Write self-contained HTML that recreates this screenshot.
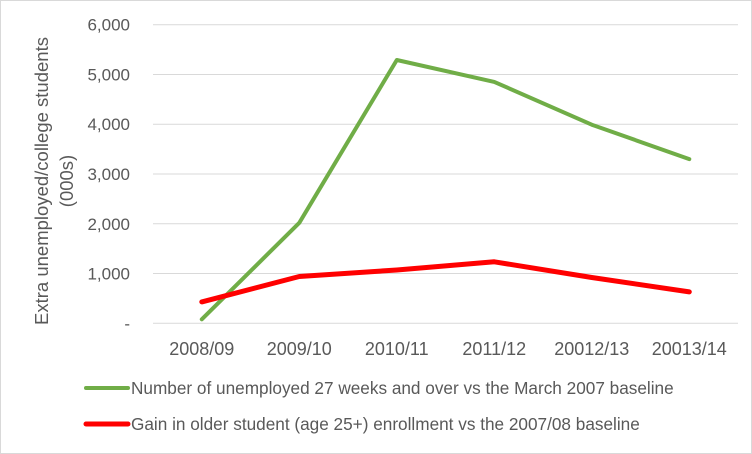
<!DOCTYPE html>
<html><head><meta charset="utf-8">
<style>
html,body{margin:0;padding:0;background:#fff;}
svg{display:block;font-family:"Liberation Sans",sans-serif;}
</style></head>
<body>
<svg id="chart" width="752" height="454" viewBox="0 0 752 454">
<rect x="0.5" y="0.5" width="751" height="453" fill="#fff" stroke="#d9d9d9"/>
<g id="grid"></g>
<g id="yticks"></g>
<g id="xticks"></g>
<g id="series"></g>
<text transform="translate(48,181) rotate(-90)" text-anchor="middle" font-size="18.5" fill="#595959"><tspan x="0" dy="0">Extra unemployed/college students</tspan><tspan x="0" dy="25">(000s)</tspan></text>
<g>
<g>
<line x1="86" y1="388" x2="128" y2="388" stroke="#70ad47" stroke-width="4" stroke-linecap="round"/>
<text x="131" y="394" font-size="17.2" fill="#595959">Number of unemployed 27 weeks and over vs the March 2007 baseline</text>
</g>
<g>
<line x1="86" y1="424" x2="128" y2="424" stroke="#ff0000" stroke-width="5" stroke-linecap="round"/>
<text x="131" y="430" font-size="17.2" fill="#595959">Gain in older student (age 25+) enrollment vs the 2007/08 baseline</text>
</g>
</g>
</svg>
<script>
const categories=["2008/09","2009/10","2010/11","2011/12","20012/13","20013/14"];
const unemployed=[80,2020,5290,4850,3990,3300];
const students=[430,940,1070,1235,920,630];
const yTicks=[0,1000,2000,3000,4000,5000,6000];
const yTickLabels=["-","1,000","2,000","3,000","4,000","5,000","6,000"];
const NS="http://www.w3.org/2000/svg";
const L=153,R=738,T=24.7,B=323.3,YMAX=6000;
const band=(R-L)/categories.length;
function x(i){return L+band*(i+0.5);}
function y(v){return B-(v/YMAX)*(B-T);}
function mk(tag,attrs,parent){const e=document.createElementNS(NS,tag);for(const k in attrs)e.setAttribute(k,attrs[k]);parent.appendChild(e);return e;}
const grid=document.getElementById('grid'),yt=document.getElementById('yticks'),xt=document.getElementById('xticks'),ser=document.getElementById('series');
yTicks.forEach((v,i)=>{
  const g=mk('line',{x1:L,x2:R,y1:y(v),y2:y(v),stroke:'#d9d9d9','stroke-width':1},grid);
  
  
  const t=mk('text',{x:130,y:y(v)+6,'text-anchor':'end','font-size':17,fill:'#595959'},yt);
  t.textContent=yTickLabels[i];
  
  
});
categories.forEach((c,i)=>{
  const t=mk('text',{x:x(i),y:355,'text-anchor':'middle','font-size':18,fill:'#595959'},xt);
  t.textContent=c;
  
  
});
function path(vals){return vals.map((v,i)=>(i?'L':'M')+x(i).toFixed(1)+' '+y(v).toFixed(1)).join(' ');}
const p1=mk('path',{d:path(unemployed),fill:'none',stroke:'#70ad47','stroke-width':4,'stroke-linejoin':'round','stroke-linecap':'round'},ser);


const p2=mk('path',{d:path(students),fill:'none',stroke:'#ff0000','stroke-width':5,'stroke-linejoin':'round','stroke-linecap':'round'},ser);


</script>
</body></html>
